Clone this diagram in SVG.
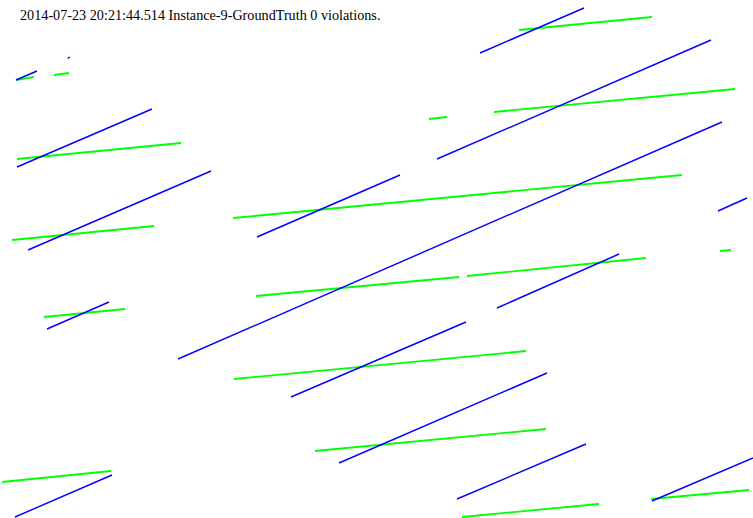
<svg xmlns="http://www.w3.org/2000/svg" width="753" height="518" viewBox="0 0 753 518">
<style>
.b{stroke:#0000ff;stroke-width:1.4;fill:none}
.g{stroke:#00ff00;stroke-width:1.8;fill:none}
text{font-family:"Liberation Serif","Times New Roman",serif;font-size:14.2px;fill:#000}
</style>
<rect width="753" height="518" fill="#fff"/>
<text x="20" y="20">2014-07-23 20:21:44.514 Instance-9-GroundTruth 0 violations.</text>
<g id="green">
<line class="g" x1="519" y1="30" x2="652" y2="17"/>
<line class="g" x1="16" y1="80" x2="34" y2="77"/>
<line class="g" x1="54" y1="75" x2="69" y2="73"/>
<line class="g" x1="429" y1="119" x2="447" y2="117"/>
<line class="g" x1="494" y1="112" x2="735" y2="89"/>
<line class="g" x1="17" y1="159" x2="181" y2="143"/>
<line class="g" x1="233" y1="218" x2="682" y2="175"/>
<line class="g" x1="12" y1="240" x2="154" y2="226"/>
<line class="g" x1="256" y1="296" x2="459" y2="277"/>
<line class="g" x1="467" y1="276" x2="646" y2="258"/>
<line class="g" x1="720" y1="251" x2="731" y2="250"/>
<line class="g" x1="44" y1="317" x2="125" y2="309"/>
<line class="g" x1="234" y1="379" x2="526" y2="351"/>
<line class="g" x1="315" y1="451" x2="546" y2="429"/>
<line class="g" x1="2" y1="482" x2="111" y2="471"/>
<line class="g" x1="462" y1="517" x2="599" y2="504"/>
<line class="g" x1="651" y1="499" x2="749" y2="490"/>
</g>
<g id="blue">
<line class="b" x1="480" y1="53" x2="584" y2="8"/>
<line class="b" x1="16" y1="80" x2="37" y2="71"/>
<line class="b" x1="67.5" y1="58.5" x2="70" y2="57"/>
<line class="b" x1="17" y1="167" x2="152" y2="109"/>
<line class="b" x1="437" y1="159" x2="711" y2="40"/>
<line class="b" x1="28" y1="250" x2="211" y2="171"/>
<line class="b" x1="257" y1="237" x2="400" y2="175"/>
<line class="b" x1="178" y1="359" x2="722" y2="122"/>
<line class="b" x1="718" y1="211" x2="747" y2="198"/>
<line class="b" x1="497" y1="308" x2="619" y2="254"/>
<line class="b" x1="47" y1="329" x2="109" y2="302"/>
<line class="b" x1="291" y1="397" x2="466" y2="322"/>
<line class="b" x1="339" y1="463" x2="547" y2="373"/>
<line class="b" x1="15" y1="517" x2="112" y2="475"/>
<line class="b" x1="457" y1="499" x2="586" y2="444"/>
<line class="b" x1="652" y1="501" x2="753" y2="458"/>
</g>
</svg>
